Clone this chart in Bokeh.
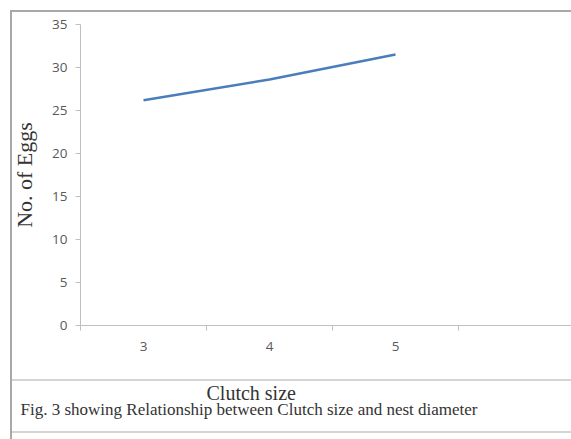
from bokeh.plotting import figure
from bokeh.models import FixedTicker, Range1d, InlineStyleSheet, Title
from bokeh.embed import file_html
from bokeh.resources import INLINE

categories = ["3", "4", "5"]
eggs = [26.2, 28.6, 31.5]
y_ticks = [0, 5, 10, 15, 20, 25, 30, 35]

xpos = [i + 0.5 for i in range(len(categories))]

W, H = 571, 439
left, top, bottom = 80, 24, 114
frame_w = W - left

p = figure(width=W, height=H, output_backend="svg", toolbar_location=None,
           x_range=Range1d(0, frame_w / 126.0), y_range=Range1d(0, 35),
           min_border_left=left, min_border_right=0, min_border_top=top,
           min_border_bottom=bottom)
p.outline_line_color = None
p.grid.visible = False

p.line(xpos, eggs, line_color="#4a7ebb", line_width=2.5)

tick_font = "Open Sans"
tick_color = "#595959"
serif = "Liberation Serif"
text_color = "#333333"

xa = p.xaxis[0]
xa.ticker = FixedTicker(ticks=xpos, minor_ticks=list(range(0, len(categories) + 2)))
xa.major_label_overrides = {x: c for x, c in zip(xpos, categories)}
xa.major_tick_line_color = None
xa.minor_tick_line_color = "#bfbfbf"
xa.minor_tick_out = 5
xa.minor_tick_in = 0
xa.axis_line_color = "#bfbfbf"
xa.major_label_standoff = 10
xa.major_label_text_font = tick_font
xa.major_label_text_font_size = "13.5px"
xa.major_label_text_color = tick_color

ya = p.yaxis[0]
ya.ticker = FixedTicker(ticks=y_ticks)
ya.minor_tick_line_color = None
ya.major_tick_line_color = "#bfbfbf"
ya.major_tick_out = 5
ya.major_tick_in = 0
ya.axis_line_color = "#bfbfbf"
ya.major_label_text_font = tick_font
ya.major_label_text_font_size = "13.5px"
ya.major_label_text_color = tick_color
ya.major_label_standoff = 8
ya.axis_label = "No. of Eggs"
ya.axis_label_text_font = serif
ya.axis_label_text_font_size = "22px"
ya.axis_label_text_font_style = "normal"
ya.axis_label_text_color = text_color
ya.axis_label_standoff = 12

p.add_layout(Title(text="Clutch size", align="left", offset=206 - left,
                   standoff=52, text_font=serif, text_font_size="20px",
                   text_font_style="normal", text_color=text_color), "below")
p.add_layout(Title(text="Fig. 3 showing Relationship between Clutch size and nest diameter",
                   align="left", offset=20 - left, standoff=-60,
                   vertical_align="top",
                   text_font=serif, text_font_size="17px",
                   text_font_style="normal", text_color=text_color), "below")

css = """
:host { position: relative; }
:host::before {
  content: ""; position: absolute; left: 0; top: 0; right: 0; bottom: 0;
  pointer-events: none; z-index: 10;
  background:
    linear-gradient(#a8a8a8, #a8a8a8) 10px 10px / 2px 429px no-repeat,
    linear-gradient(#a8a8a8, #a8a8a8) 10px 10px / 561px 2px no-repeat,
    linear-gradient(#d4d4d4, #d4d4d4) 12px 379px / 559px 2px no-repeat,
    linear-gradient(#d4d4d4, #d4d4d4) 12px 431px / 559px 2px no-repeat;
}
"""
p.stylesheets = [InlineStyleSheet(css=css)]

open("out.html", "w").write(file_html(p, INLINE))
